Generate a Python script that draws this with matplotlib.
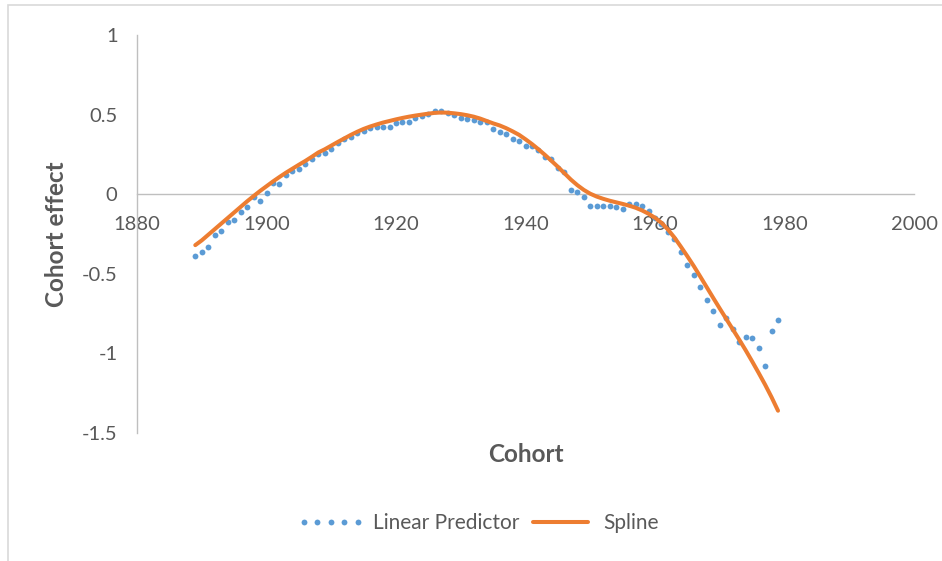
import matplotlib.pyplot as plt
from matplotlib.patches import Rectangle

# cohort years, one value per year for both series
years = list(range(1889, 1980))

linear_predictor = [
    -0.390, -0.363, -0.331, -0.258, -0.233, -0.174, -0.164, -0.112, -0.080, -0.017,  # 1889-1898
    -0.044, 0.008, 0.073, 0.067, 0.119, 0.145, 0.160, 0.189, 0.218, 0.252,          # 1899-1908
    0.260, 0.287, 0.319, 0.344, 0.360, 0.382, 0.398, 0.415, 0.423, 0.425,            # 1909-1918
    0.423, 0.450, 0.453, 0.455, 0.478, 0.491, 0.501, 0.524, 0.524, 0.511,            # 1919-1928
    0.497, 0.476, 0.472, 0.465, 0.455, 0.451, 0.407, 0.392, 0.377, 0.346,            # 1929-1938
    0.335, 0.302, 0.305, 0.277, 0.235, 0.219, 0.162, 0.142, 0.025, 0.015,            # 1939-1948
    -0.017, -0.073, -0.073, -0.074, -0.075, -0.082, -0.096, -0.064, -0.064, -0.075,  # 1949-1958
    -0.106, -0.150, -0.190, -0.240, -0.279, -0.360, -0.447, -0.509, -0.583, -0.662,  # 1959-1968
    -0.736, -0.824, -0.776, -0.845, -0.929, -0.897, -0.904, -0.967, -1.080, -0.862,  # 1969-1978
    -0.788,                                                                          # 1979
]

spline = [
    -0.320, -0.290, -0.255, -0.220, -0.185, -0.150, -0.115, -0.080, -0.045, -0.012,  # 1889-1898
    0.020, 0.050, 0.080, 0.108, 0.135, 0.160, 0.185, 0.209, 0.235, 0.262,            # 1899-1908
    0.282, 0.305, 0.328, 0.350, 0.372, 0.392, 0.410, 0.425, 0.438, 0.450,            # 1909-1918
    0.460, 0.470, 0.479, 0.487, 0.494, 0.500, 0.506, 0.511, 0.513, 0.512,            # 1919-1928
    0.508, 0.503, 0.496, 0.487, 0.475, 0.460, 0.445, 0.432, 0.415, 0.395,            # 1929-1938
    0.373, 0.345, 0.315, 0.282, 0.247, 0.210, 0.172, 0.132, 0.092, 0.057,            # 1939-1948
    0.027, 0.003, -0.015, -0.029, -0.041, -0.051, -0.061, -0.072, -0.085, -0.102,    # 1949-1958
    -0.123, -0.148, -0.180, -0.222, -0.272, -0.330, -0.390, -0.452, -0.518, -0.585,  # 1959-1968
    -0.652, -0.718, -0.783, -0.848, -0.913, -0.980, -1.050, -1.122, -1.196, -1.275,  # 1969-1978
    -1.360,                                                                          # 1979
]

x_ticks = [1880, 1900, 1920, 1940, 1960, 1980, 2000]
y_ticks = [1, 0.5, 0, -0.5, -1, -1.5]
y_tick_labels = ['1', '0.5', '0', '-0.5', '-1', '-1.5']

blue = '#5B9BD5'
orange = '#ED7D31'
text_grey = '#595959'
axis_grey = '#BFBFBF'

plt.rcParams['font.family'] = ['Lato', 'DejaVu Sans']

fig = plt.figure(figsize=(9.42, 5.61), dpi=100)
ax = fig.add_axes([137 / 942, 128 / 561, 777 / 942, 398 / 561])

ax.plot(years, linear_predictor, linestyle='none', marker='o', markersize=4.2,
        markeredgewidth=0, color=blue, label='Linear Predictor', zorder=3)
ax.plot(years, spline, color=orange, linewidth=2.9, solid_capstyle='round',
        solid_joinstyle='round', label='Spline', zorder=4)

ax.set_xlim(1880, 2000)
ax.set_ylim(-1.5, 1)
ax.set_xticks(x_ticks)
ax.set_yticks(y_ticks)
ax.set_yticklabels(y_tick_labels)

# excel style: y axis at 1880, x axis crossing at 0
for side in ['top', 'right']:
    ax.spines[side].set_visible(False)
ax.spines['bottom'].set_position(('data', 0))
for side in ['left', 'bottom']:
    ax.spines[side].set_color(axis_grey)
    ax.spines[side].set_linewidth(1.0)
ax.tick_params(axis='x', length=0, pad=16, labelsize=14.5, labelcolor=text_grey)
ax.tick_params(axis='y', length=0, pad=14, labelsize=14.5, labelcolor=text_grey)

ax.set_xlabel('Cohort', fontsize=17.5, fontweight='bold', color=text_grey)
ax.xaxis.set_label_coords(0.5, -0.025)
ax.set_ylabel('Cohort effect', fontsize=17.5, fontweight='bold', color=text_grey)
ax.yaxis.set_label_coords(-0.089, 0.5)

leg = fig.legend(loc='center', bbox_to_anchor=(478 / 942, 1 - 523 / 561), ncol=2,
                 frameon=False, numpoints=5, handlelength=3.2, handletextpad=0.45,
                 columnspacing=0.35, fontsize=15)
for t in leg.get_texts():
    t.set_color(text_grey)

# chart area border
fig.patches.append(Rectangle((8 / 942, -0.05), 1.0, 1 - 5 / 561 + 0.05,
                             transform=fig.transFigure, fill=False,
                             edgecolor='#D9D9D9', linewidth=1.2))

plt.savefig('out.png', dpi=100)
